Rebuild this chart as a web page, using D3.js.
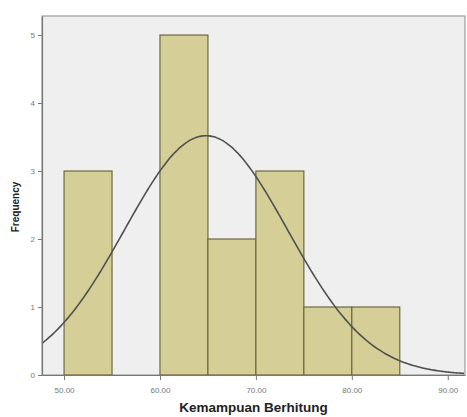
<!DOCTYPE html>
<html><head><meta charset="utf-8">
<script src="https://cdn.jsdelivr.net/npm/d3@7"></script>
<style>body{margin:0;background:#fff}svg{display:block}</style>
</head><body>
<svg id="c" width="467" height="417"></svg>
<script>
const binStarts = [50, 55, 60, 65, 70, 75, 80];
const binWidth = 5;
const frequencies = [3, 0, 5, 2, 3, 1, 1];
const xTicks = [50, 60, 70, 80, 90];
const yTicks = [0, 1, 2, 3, 4, 5];
const curveMean = 64.8, curveSd = 8.5, nTotal = 15;

const svg = d3.select("#c");
const L = 42, R = 465, T = 16, B = 375;
const x = d3.scaleLinear().domain([47.7, 91.8]).range([L, R]);
const y = d3.scaleLinear().domain([0, 5.28]).range([B, T]);

svg.append("rect").attr("x", L).attr("y", T).attr("width", R - L).attr("height", B - T)
  .attr("fill", "#efefef").attr("stroke", "#9a9a9a").attr("stroke-width", 1.2);

const bins = binStarts.map((s, i) => ({s, f: frequencies[i]})).filter(d => d.f > 0);
svg.append("g").selectAll("rect").data(bins).join("rect")
  .attr("x", d => x(d.s)).attr("width", d => x(d.s + binWidth) - x(d.s))
  .attr("y", d => y(d.f)).attr("height", d => y(0) - y(d.f))
  .attr("fill", "#d5cf97").attr("stroke", "#6e6843").attr("stroke-width", 1.2);

const pts = d3.range(x.invert(L), x.invert(R) + 0.01, 0.2).map(v => {
  const z = (v - curveMean) / curveSd;
  return [v, nTotal * binWidth / (curveSd * Math.sqrt(2 * Math.PI)) * Math.exp(-0.5 * z * z)];
});
svg.append("path").datum(pts)
  .attr("d", d3.line().x(d => x(d[0])).y(d => y(d[1])).curve(d3.curveBasis))
  .attr("fill", "none").attr("stroke", "#505050").attr("stroke-width", 1.6);

const xa = svg.append("g").attr("transform", `translate(0,${B})`)
  .call(d3.axisBottom(x).tickValues(xTicks).tickFormat(d3.format(".2f")).tickSize(5).tickSizeOuter(0));
const ya = svg.append("g").attr("transform", `translate(${L},0)`)
  .call(d3.axisLeft(y).tickValues(yTicks).tickFormat(d3.format("d")).tickSize(4).tickSizeOuter(0));
[xa, ya].forEach(a => {
  a.select(".domain").attr("stroke", "#777").attr("stroke-width", 1.2);
  a.selectAll(".tick line").attr("stroke", "#777");
  a.selectAll(".tick text").attr("fill", "#777").style("font-family", "Liberation Sans, Arial, sans-serif").style("font-size", "8px");
});
xa.selectAll(".tick text").attr("dy", "1.3em");

svg.append("text").attr("x", (L + R) / 2).attr("y", 412).attr("text-anchor", "middle")
  .style("font-family", "Liberation Sans, Arial, sans-serif").style("font-weight", "bold").style("font-size", "13.5px")
  .attr("fill", "#222").text("Kemampuan Berhitung");
svg.append("text").attr("transform", "translate(19,207) rotate(-90)").attr("text-anchor", "middle")
  .style("font-family", "Liberation Sans, Arial, sans-serif").style("font-weight", "bold").style("font-size", "10px")
  .attr("fill", "#222").text("Frequency");
</script>
</body></html>
